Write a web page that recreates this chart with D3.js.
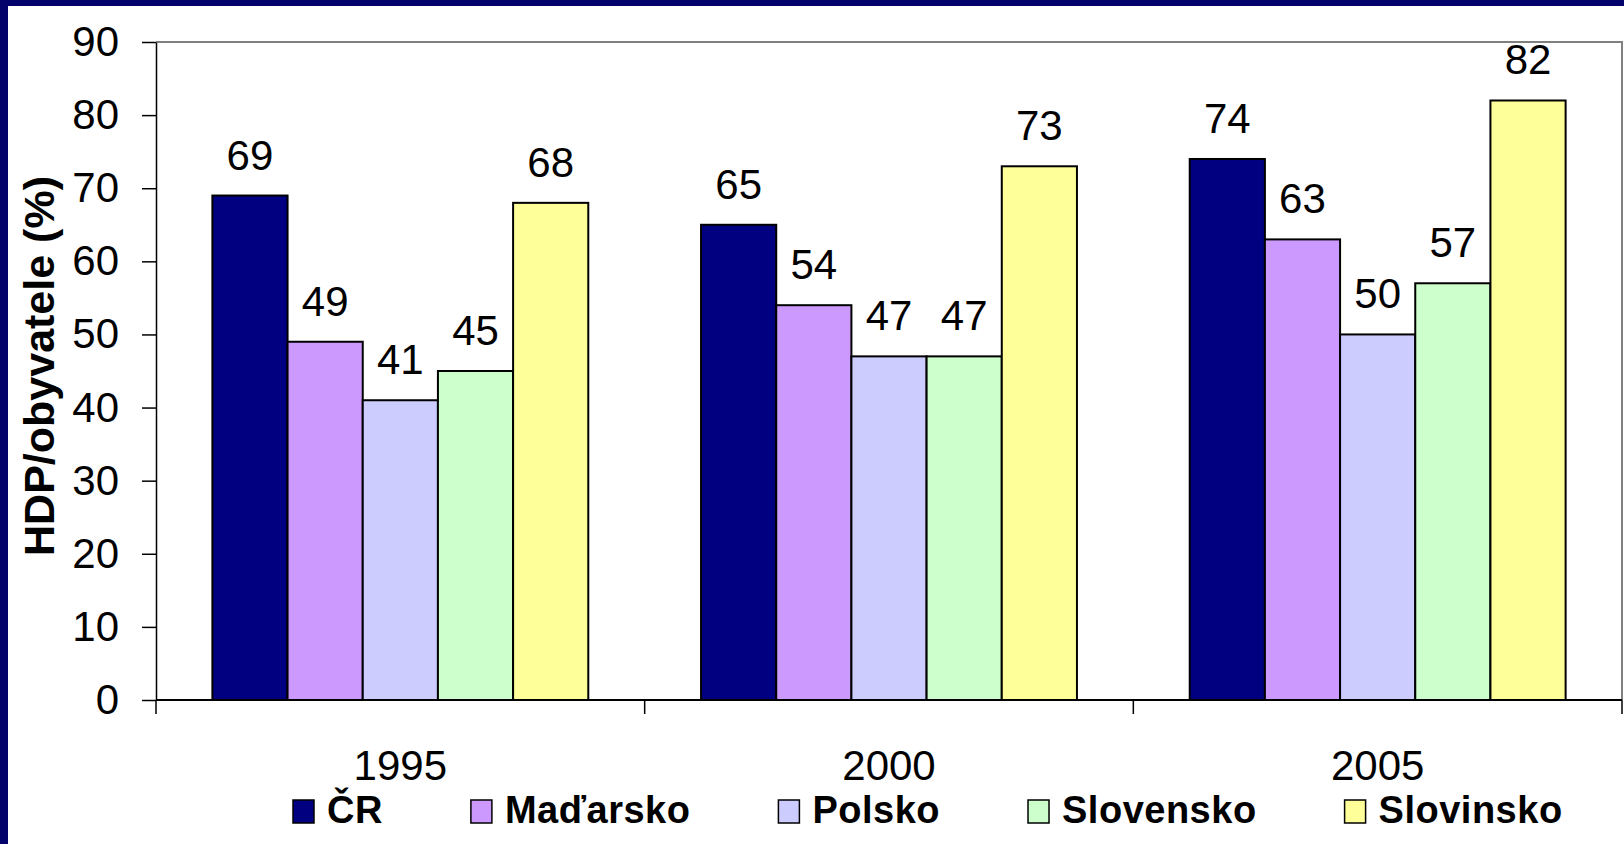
<!DOCTYPE html>
<html>
<head>
<meta charset="utf-8">
<script src="https://cdn.jsdelivr.net/npm/d3@7"></script>
<style>
  body { margin: 0; background: #fff; }
  svg { display: block; font-family: "Liberation Sans", Arial, sans-serif; }
</style>
</head>
<body>
<svg id="chart"></svg>
<script>
// data
const years = ["1995", "2000", "2005"];
const countries = ["ČR", "Maďarsko", "Polsko", "Slovensko", "Slovinsko"];
const cr = [69, 65, 74];
const madarsko = [49, 54, 63];
const polsko = [41, 47, 50];
const slovensko = [45, 47, 57];
const slovinsko = [68, 73, 82];
const colors = ["#000080", "#cc99ff", "#ccccff", "#ccffcc", "#ffff99"];
const yTicks = [0, 10, 20, 30, 40, 50, 60, 70, 80, 90];
const yTitle = "HDP/obyvatele (%)";

const seriesValues = [cr, madarsko, polsko, slovensko, slovinsko];

const width = 1624;
const height = 844;
const plotLeft = 156, plotRight = 1622, plotTop = 42, plotBottom = 700;

const svg = d3.select("#chart")
    .attr("width", width)
    .attr("height", height);

// slide frame
const navy = "#03036b";
svg.append("rect").attr("x", 0).attr("y", 0).attr("width", width).attr("height", 6).attr("fill", navy);
svg.append("rect").attr("x", 0).attr("y", 0).attr("width", 8).attr("height", height).attr("fill", navy);

const x0 = d3.scaleBand()
    .domain(years)
    .range([plotLeft, plotRight]);
const gw = x0.bandwidth();
const x1 = d3.scaleBand()
    .domain(countries)
    .range([gw * 0.75 / 6.5, gw - gw * 0.75 / 6.5]);
const y = d3.scaleLinear()
    .domain([0, 90])
    .range([plotBottom, plotTop]);

// plot area border (grey top + right)
svg.append("path")
    .attr("d", "M" + plotLeft + "," + y(90) + "H" + plotRight + "V" + y(0))
    .attr("fill", "none")
    .attr("stroke", "#808080")
    .attr("stroke-width", 2);

// bars
const groups = svg.append("g")
    .selectAll("g")
    .data(years)
    .join("g")
    .attr("transform", d => "translate(" + x0(d) + ",0)");

const cells = (d, i) => countries.map((c, k) => ({ c: c, k: k, v: seriesValues[k][i] }));

groups.selectAll("rect")
    .data(cells)
    .join("rect")
    .attr("x", d => x1(d.c))
    .attr("y", d => y(d.v))
    .attr("width", x1.bandwidth())
    .attr("height", d => y(0) - y(d.v))
    .attr("fill", d => colors[d.k])
    .attr("stroke", "#000")
    .attr("stroke-width", 2);

groups.selectAll("text")
    .data(cells)
    .join("text")
    .attr("x", d => x1(d.c) + x1.bandwidth() / 2)
    .attr("y", d => y(d.v) - 26)
    .attr("text-anchor", "middle")
    .attr("font-size", 42)
    .text(d => d.v);

// y axis
const yAxis = svg.append("g")
    .attr("transform", "translate(" + plotLeft + ",0)")
    .call(d3.axisLeft(y).tickValues(yTicks).tickSize(14).tickSizeOuter(0).tickPadding(23));
yAxis.selectAll("text")
    .attr("font-size", 42)
    .attr("font-family", "Liberation Sans, Arial, sans-serif")
    .attr("fill", "#000");
yAxis.selectAll("line").attr("stroke", "#000").attr("stroke-width", 1.5);
yAxis.select(".domain").attr("stroke", "#000").attr("stroke-width", 1.5);

// x axis: baseline, ticks at category boundaries, labels
const xAxis = svg.append("g");
xAxis.append("line")
    .attr("x1", plotLeft).attr("x2", plotRight)
    .attr("y1", y(0)).attr("y2", y(0))
    .attr("stroke", "#000").attr("stroke-width", 2);
xAxis.selectAll(".tk")
    .data(years.map(d => x0(d)).concat([plotRight]))
    .join("line")
    .attr("class", "tk")
    .attr("x1", d => d).attr("x2", d => d)
    .attr("y1", y(0)).attr("y2", y(0) + 14)
    .attr("stroke", "#000").attr("stroke-width", 1.5);
xAxis.selectAll("text")
    .data(years)
    .join("text")
    .attr("x", d => x0(d) + gw / 2)
    .attr("y", 780)
    .attr("text-anchor", "middle")
    .attr("font-size", 42)
    .text(d => d);

// y title
svg.append("text")
    .attr("transform", "translate(54," + 366 + ") rotate(-90)")
    .attr("text-anchor", "middle")
    .attr("font-size", 43)
    .attr("font-weight", "bold")
    .text(yTitle);

// legend
const legend = svg.append("g");
let lx = 293;
countries.forEach((c, k) => {
    legend.append("rect")
        .attr("x", lx).attr("y", 800)
        .attr("width", 21).attr("height", 23)
        .attr("fill", colors[k])
        .attr("stroke", "#000")
        .attr("stroke-width", 1.5);
    const t = legend.append("text")
        .attr("x", lx + 34)
        .attr("y", 823)
        .attr("font-size", 38)
        .attr("font-weight", "bold")
        .attr("letter-spacing", 0.5)
        .text(c);
    lx += 34 + t.node().getComputedTextLength() + 88;
});
</script>
</body>
</html>
